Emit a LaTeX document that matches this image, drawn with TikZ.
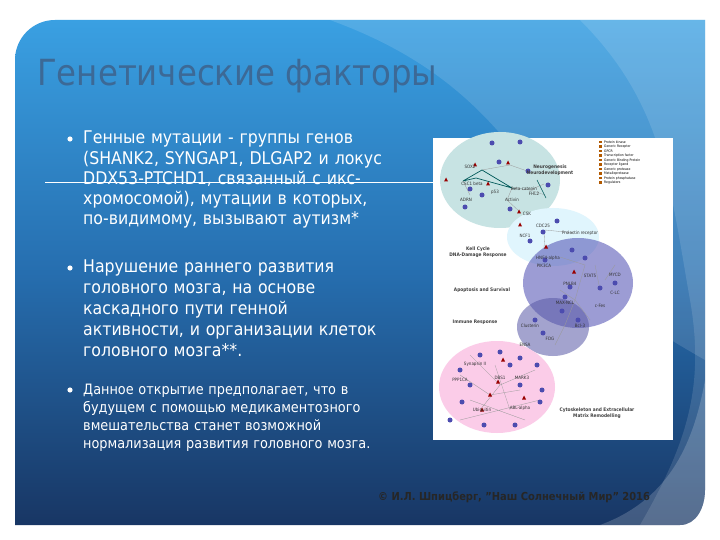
\documentclass[tikz,border=0pt]{standalone}
\usepackage{fontspec}
\setmainfont{DejaVu Sans Condensed}
\usetikzlibrary{shapes.geometric}
\begin{document}
\begin{tikzpicture}[x=1pt,y=-1pt,
  bul/.style={anchor=north west,text=white,align=left,inner sep=0pt},
  lab/.style={font=\fontsize{4.5}{5}\selectfont,inner sep=0.5pt,text=black!80},
  gene/.style={circle,fill=blue!55!black!70,minimum size=5pt,inner sep=0pt},
  big/.style={font=\fontsize{4.8}{5.5}\selectfont\bfseries,inner sep=0pt,text=black!75,align=center}]
\useasboundingbox (0,0) rectangle (720,540);
\fill[white] (0,0) rectangle (720,540);
% panel
\shade[top color={rgb,255:red,58;green,160;blue,226},bottom color={rgb,255:red,24;green,54;blue,100},middle color={rgb,255:red,38;green,110;blue,175}]
  (15,60) -- (15,525) -- (680,525) to[out=0,in=-90] (705,490) -- (705,20) -- (55,20) to[out=180,in=90] (15,60) -- cycle;
\fill[white,opacity=0.13] (330,20) to[out=-20,in=120] (580,250) to[out=-60,in=150] (705,360) -- (705,20) -- cycle;
\fill[white,opacity=0.12] (580,20) to[out=-45,in=100] (690,300) to[out=-80,in=60] (640,525) -- (680,525) to[out=0,in=-90] (705,490) -- (705,20) -- cycle;
\fill[white,opacity=0.18] (600,525) to[out=20,in=-100] (705,380) -- (705,490) to[out=-90,in=0] (680,525) -- cycle;
% title
\node[anchor=west,text={rgb,255:red,60;green,105;blue,150},font=\fontsize{36}{40}\selectfont,inner sep=0pt] (title) at (37,76) {Генетические факторы};
% bullets
\node[bul,font=\fontsize{17.5}{20.2}\selectfont,text width=360] (b1) at (83,131) {Генные мутации - группы генов\\(SHANK2, SYNGAP1, DLGAP2 и локус\\DDX53-PTCHD1, связанный с икс-\\хромосомой), мутации в которых,\\по-видимому, вызывают аутизм*};
\node[bul,font=\fontsize{17.5}{21}\selectfont,text width=360] (b2) at (83,260) {Нарушение раннего развития\\головного мозга, на основе\\каскадного пути генной\\активности, и организации клеток\\головного мозга**.};
\node[bul,font=\fontsize{14.3}{18}\selectfont,text width=360] (b3) at (83,384) {Данное открытие предполагает, что в\\будущем с помощью медикаментозного\\вмешательства станет возможной\\нормализация развития головного мозга.};
\foreach \y/\n in {139/d1,268/d2,390/d3} \fill[white] (70,\y) circle (2.6);
% image
\node[draw=none,fill=white,minimum width=240,minimum height=302,inner sep=0pt,anchor=north west] (img) at (433,138) {};
\coordinate (sl) at (45,183);
\draw[white,line width=1pt] (sl) -- (img.west |- sl);
\fill[teal!22] (500,180) ellipse (60 and 48);
\fill[cyan!12] (553,237) ellipse (46 and 29);
\fill[blue!40!gray,opacity=0.55] (578,283) ellipse (55 and 45);
\fill[blue!30!gray,opacity=0.55] (553,327) ellipse (36 and 29);
\fill[magenta!20] (497,387) ellipse (58 and 46);
% edges
\draw[teal!70!black,line width=0.7pt] (463,181) -- (482,170) -- (512,188) -- (476,178) -- (463,181);
\draw[black!40,line width=0.3pt] (463,181) -- (470,195) (482,170) -- (510,165) -- (530,172) (512,188) -- (530,190) -- (545,195) (512,188) -- (507,200) -- (520,212) (544,184) -- (530,190);
\draw[teal!70!black,line width=0.5pt] (537,180) -- (546,198);
\draw[black!40,line width=0.3pt] (545,230) -- (575,233) (544,248) -- (545,230) (560,257) -- (585,265) -- (575,300) -- (590,320) (560,290) -- (575,300) -- (565,325) -- (555,345) (595,265) -- (600,290) (605,280) -- (615,265);
\draw[black!40,line width=0.3pt] (470,355) -- (500,385) -- (535,370) (460,375) -- (490,395) -- (520,390) (480,410) -- (500,385) (470,400) -- (525,420) (495,365) -- (510,410) (460,420) -- (540,400);
% genes
\foreach \p in {(492,143),(520,142),(499,162),(528,171),(548,185),(470,189),(482,195),(465,207),(510,209),(543,232),(557,221),(530,241),(572,250),(585,258),(545,260),(570,287),(600,288),(615,283),(565,297),(562,311),(535,320),(543,333),(578,320),(480,355),(500,352),(520,358),(460,370),(510,365),(537,365),(470,385),(520,385),(542,390),(462,402),(540,402),(450,420),(484,425),(515,425)}
  \node[gene] at \p {};
\foreach \p in {(475,165),(508,163),(446,180),(488,184),(519,212),(520,225),(546,247),(574,272),(503,360),(498,382),(490,395),(524,398),(482,410)}
  \fill[red!60!black] \p +(-2,1.5) -- +(2,1.5) -- +(0,-2.5) -- cycle;
\node[lab] at (470,167) {SOX2};
\node[lab] at (472,184) {CSC1 beta};
\node[lab] at (524,189) {Beta-catenin};
\node[lab] at (495,192) {p53};
\node[lab] at (512,200) {Activin};
\node[lab] at (534,194) {FHL2};
\node[lab] at (466,200) {ADRN};
\node[lab] at (527,214) {CSK};
\node[lab] at (580,233) {Prolactin receptor};
\node[lab] at (543,226) {CDC25};
\node[lab] at (525,236) {NCF1};
\node[lab] at (548,258) {HNF4-alpha};
\node[lab] at (544,266) {PIK3CA};
\node[lab] at (570,284) {PNLB4};
\node[lab] at (590,276) {STAT5};
\node[lab] at (615,275) {MYCD};
\node[lab] at (615,293) {C-LC};
\node[lab] at (565,303) {MAX-NCL};
\node[lab] at (600,306) {c-Fes};
\node[lab] at (530,326) {Clusterin};
\node[lab] at (550,339) {FDG};
\node[lab] at (580,326) {Bcl-3};
\node[lab] at (525,345) {ENSA};
\node[lab] at (475,364) {Synapsin II};
\node[lab] at (460,380) {PPP1CA};
\node[lab] at (500,378) {DBS1};
\node[lab] at (522,378) {MARK3};
\node[lab] at (482,410) {Ubiquitin};
\node[lab] at (520,408) {ABL-alpha};
\node[big] at (478,252) {Kell Cycle\\DNA-Damage Response};
\node[big] at (482,290) {Apoptosis and Survival};
\node[big] at (475,322) {Immune Response};
\node[big] at (550,170) {Neurogenesis\\Neurodevelopment};
\node[big] at (597,413) {Cytoskeleton and Extracellular\\Matrix Remodelling};
% legend
\foreach \i/\t in {0/Protein kinase,1/Generic Receptor,2/GPCR,3/Transcription factor,4/Generic Binding Protein,5/Receptor ligand,6/Generic protease,7/Metalloprotease,8/Protein phosphatase,9/Regulators}
  {\fill[orange!70!black] (599,141+\i*4.5) rectangle +(3,2.5);
   \node[anchor=west,font=\fontsize{3.4}{4}\selectfont,inner sep=0pt] at (604,142.3+\i*4.5) {\t};}
% footer
\node[anchor=west,font=\fontsize{11}{12}\selectfont\bfseries,text=black!85,inner sep=0pt] (foot) at (378,497) {© И.Л. Шпицберг, "Наш Солнечный Мир" 2016};
\end{tikzpicture}
\end{document}
